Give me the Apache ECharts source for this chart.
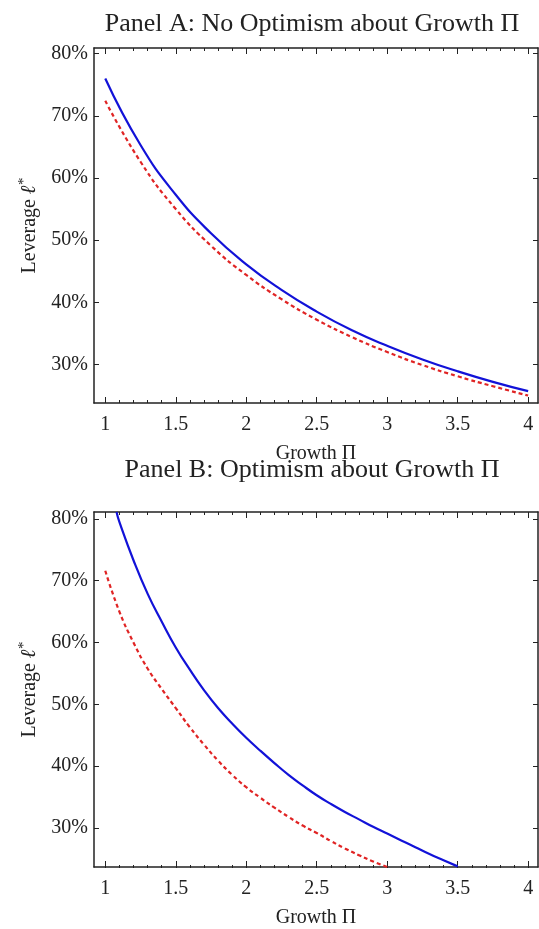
<!DOCTYPE html>
<html>
<head>
<meta charset="utf-8">
<title>Leverage vs Growth</title>
<script src="https://cdn.jsdelivr.net/npm/echarts@6/dist/echarts.min.js"></script>
<style>
  html, body { margin: 0; padding: 0; background: #fff; }
  #chart { width: 539px; height: 929px; }
</style>
</head>
<body>
<div id="chart"></div>
<script>
// ---- data ----
// Panel A: No Optimism about Growth
const growthA = [1, 1.25, 1.5, 1.75, 2, 2.25, 2.5, 2.75, 3, 3.25, 3.5, 3.75, 4];
const solidA  = [76.0, 65.3, 57.3, 51.1, 46.1, 42.0, 38.5, 35.5, 33.0, 30.8, 28.9, 27.2, 25.7];
const dashedA = [72.4, 62.6, 55.0, 49.1, 44.4, 40.5, 37.2, 34.4, 32.0, 29.9, 28.1, 26.5, 25.0];

// Panel B: Optimism about Growth
const growthBSolid = [1.08, 1.1, 1.2, 1.3, 1.4, 1.5, 1.6, 1.7, 1.8, 1.9, 2, 2.1, 2.2, 2.3, 2.4, 2.5,
  2.6, 2.7, 2.8, 2.9, 3, 3.1, 3.2, 3.3, 3.4, 3.5];
const solidB = [81.1, 79.5, 73.3, 67.9, 63.4, 59.2, 55.6, 52.3, 49.4, 46.9, 44.6, 42.5, 40.5, 38.6, 36.9, 35.3,
  33.9, 32.6, 31.4, 30.2, 29.1, 28.0, 26.9, 25.8, 24.8, 23.8];
const growthBDashed = [1, 1.1, 1.2, 1.3, 1.4, 1.5, 1.6, 1.7, 1.8, 1.9, 2, 2.1, 2.2, 2.3, 2.4, 2.5,
  2.6, 2.7, 2.8, 2.9, 3];
const dashedB = [71.6, 65.0, 60.0, 55.8, 52.5, 49.4, 46.3, 43.5, 40.9, 38.6, 36.6, 34.9, 33.3, 31.8, 30.4, 29.2,
  27.9, 26.7, 25.6, 24.6, 23.7];

// tick labels
const xTicks = [1, 1.5, 2, 2.5, 3, 3.5, 4];
const yTicks = [30, 40, 50, 60, 70, 80];
const xMinorTicks = [];
for (let i = 10; i <= 40; i++) xMinorTicks.push(i / 10);

const titles = ['Panel A: No Optimism about Growth \u03a0', 'Panel B: Optimism about Growth \u03a0'];

const toPairs = (xs, ys) => xs.map((x, i) => [x, ys[i]]);

const FONT = '"Liberation Serif", "DejaVu Serif", serif';
const INK = '#222';
const grids = [
  { left: 94, right: 1, top: 48, height: 355 },
  { left: 94, right: 1, top: 512, height: 356 }
];
const yRanges = [[23.8, 80.9], [23.7, 81.1]];
const X_MIN = 0.92, X_MAX = 4.07;

let chart = echarts.init(document.getElementById('chart'));

// main axes (0,1 bottom; 2,3 top), overlay axes for minor ticks (4..7)
let xAxis = [];
['bottom', 'top'].forEach(pos => {
  [0, 1].forEach(g => {
    xAxis.push({
      type: 'value', gridIndex: g, position: pos, min: X_MIN, max: X_MAX,
      axisLine: { show: true, onZero: false, lineStyle: { color: INK, width: 1.5 } },
      axisTick: { show: true, inside: true, length: 6, customValues: xTicks, lineStyle: { color: INK } },
      axisLabel: {
        show: pos === 'bottom', customValues: xTicks, margin: 12,
        fontFamily: FONT, fontSize: 20, color: INK,
        formatter: v => String(v)
      },
      splitLine: { show: false },
      name: pos === 'bottom' ? 'Growth \u03a0' : '',
      nameLocation: 'middle', nameGap: 41,
      nameTextStyle: { fontFamily: FONT, fontSize: 20, color: INK }
    });
  });
});
['bottom', 'top'].forEach(pos => {
  [2, 3].forEach(g => {
    xAxis.push({
      type: 'value', gridIndex: g, position: pos, min: X_MIN, max: X_MAX,
      axisLine: { show: false, onZero: false },
      axisTick: { show: true, inside: true, length: 3, customValues: xMinorTicks, lineStyle: { color: INK } },
      axisLabel: { show: false },
      splitLine: { show: false }
    });
  });
});

let yAxis = [];
['left', 'right'].forEach(pos => {
  [0, 1].forEach(g => {
    yAxis.push({
      type: 'value', gridIndex: g, position: pos, min: yRanges[g][0], max: yRanges[g][1],
      axisLine: { show: true, onZero: false, lineStyle: { color: INK, width: 1.5 } },
      axisTick: { show: true, inside: true, length: 5, customValues: yTicks, lineStyle: { color: INK } },
      axisLabel: {
        show: pos === 'left', customValues: yTicks, margin: 6,
        fontFamily: FONT, fontSize: 20, color: INK,
        formatter: v => v + '%'
      },
      splitLine: { show: false },
      name: pos === 'left' ? '{a|Leverage }{b|\u2113}{c|*}' : '',
      nameLocation: 'middle', nameGap: 50, nameRotate: 90,
      nameTextStyle: {
        fontFamily: FONT, fontSize: 20, color: INK,
        rich: {
          a: { fontFamily: FONT, fontSize: 20, color: INK },
          b: { fontFamily: FONT, fontSize: 21, fontWeight: 'bold', fontStyle: 'italic', color: INK },
          c: { fontFamily: FONT, fontSize: 15, color: INK, padding: [0, 0, 12, 0] }
        }
      }
    });
  });
});
[2, 3].forEach(g => {
  yAxis.push({ type: 'value', gridIndex: g, show: false, min: yRanges[g - 2][0], max: yRanges[g - 2][1] });
});

let option = {
  animation: false,
  backgroundColor: '#fff',
  title: titles.map((t, i) => ({
    text: t, left: 307, textAlign: 'center', top: i === 0 ? 6 : 452,
    textStyle: { fontFamily: FONT, fontSize: 26, fontWeight: 'normal', color: INK }
  })),
  grid: grids.concat(grids),
  xAxis: xAxis,
  yAxis: yAxis,
  series: [
    {
      type: 'line', xAxisIndex: 0, yAxisIndex: 0, smooth: true, showSymbol: false,
      lineStyle: { color: '#1212d8', width: 2.2 },
      data: toPairs(growthA, solidA)
    },
    {
      type: 'line', xAxisIndex: 0, yAxisIndex: 0, smooth: true, showSymbol: false,
      lineStyle: { color: '#e02424', width: 2.2, type: [4, 3] },
      data: toPairs(growthA, dashedA)
    },
    {
      type: 'line', xAxisIndex: 1, yAxisIndex: 1, smooth: true, showSymbol: false,
      lineStyle: { color: '#1212d8', width: 2.2 },
      data: toPairs(growthBSolid, solidB)
    },
    {
      type: 'line', xAxisIndex: 1, yAxisIndex: 1, smooth: true, showSymbol: false,
      lineStyle: { color: '#e02424', width: 2.2, type: [4, 3] },
      data: toPairs(growthBDashed, dashedB)
    }
  ]
};
chart.setOption(option);
</script>
</body>
</html>
